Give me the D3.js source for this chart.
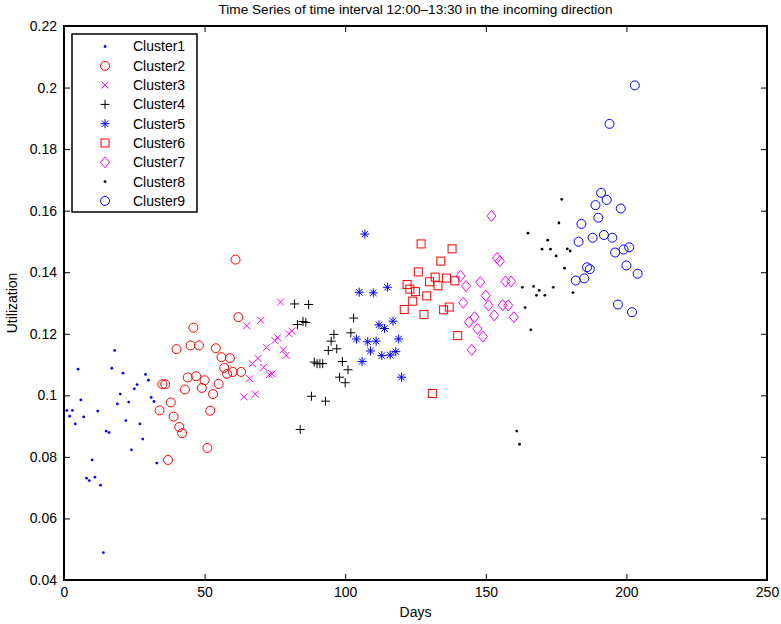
<!DOCTYPE html>
<html>
<head>
<meta charset="utf-8">
<script src="https://cdn.jsdelivr.net/npm/d3@7.9.0/dist/d3.min.js"></script>
<style>
  body { margin: 0; background: #fff; }
  svg { display: block; font-family: "Liberation Sans", Arial, sans-serif; }
</style>
</head>
<body>
<svg id="chart" width="781" height="624"></svg>
<script>
// data: day and utilization per cluster
const days1 = [1,2,3,4,5,6,7,8,9,10,11,12,13,14,15,16,17,18,19,20,21,22,23,24,25,26,27,28,29,30,31,32,33];
const util1 = [0.0951,0.0932,0.0951,0.0907,0.1085,0.0985,0.0930,0.0731,0.0723,0.0790,0.0734,0.0949,0.0708,0.0489,0.0884,0.0879,0.1088,0.1146,0.0972,0.1004,0.1072,0.0918,0.0978,0.0823,0.1021,0.1035,0.0907,0.0858,0.1068,0.1049,0.0993,0.0980,0.0780];

const days2 = [34,35,36,37,38,39,40,41,42,43,44,45,46,47,48,49,50,51,52,53,54,55,56,57,58,59,60,61,62,63];
const util2 = [0.0951,0.1036,0.1036,0.0790,0.0977,0.0931,0.1150,0.0897,0.0877,0.1019,0.1058,0.1162,0.1220,0.1062,0.1162,0.1024,0.1049,0.0829,0.0950,0.1004,0.1153,0.1037,0.1124,0.1089,0.1070,0.1121,0.1076,0.1441,0.1254,0.1076];

const days3 = [64,65,66,67,68,69,70,71,72,73,74,75,76,77,78,79,80,81];
const util3 = [0.0995,0.1226,0.1054,0.1103,0.1004,0.1120,0.1244,0.1091,0.1155,0.1067,0.1070,0.1178,0.1187,0.1303,0.1148,0.1130,0.1200,0.1209];

const days4 = [82,83,84,85,86,87,88,89,90,91,92,93,94,95,96,97,98,99,100,101,102,103];
const util4 = [0.1297,0.1230,0.0889,0.1240,0.1237,0.1295,0.0997,0.1108,0.1103,0.1103,0.1103,0.0981,0.1146,0.1176,0.1198,0.1151,0.1059,0.1110,0.1041,0.1083,0.1203,0.1251];

const days5 = [104,105,106,107,108,109,110,111,112,113,114,115,116,117,118,119,120];
const util5 = [0.1183,0.1335,0.1110,0.1524,0.1174,0.1144,0.1333,0.1176,0.1229,0.1129,0.1217,0.1351,0.1131,0.1241,0.1142,0.1183,0.1059];

const days6 = [121,122,123,124,125,126,127,128,129,130,131,132,133,134,135,136,137,138,139,140];
const util6 = [0.1279,0.1360,0.1345,0.1306,0.1337,0.1401,0.1492,0.1263,0.1323,0.1369,0.1006,0.1384,0.1356,0.1436,0.1278,0.1381,0.1287,0.1476,0.1372,0.1194];

const days7 = [141,142,143,144,145,146,147,148,149,150,151,152,153,154,155,156,157,158,159,160];
const util7 = [0.1388,0.1301,0.1355,0.1238,0.1148,0.1254,0.1216,0.1368,0.1191,0.1324,0.1292,0.1583,0.1260,0.1446,0.1436,0.1293,0.1370,0.1292,0.1370,0.1254];

const days8 = [161,162,163,164,165,166,167,168,169,170,171,172,173,174,175,176,177,178,179,180,181];
const util8 = [0.0884,0.0841,0.1351,0.1285,0.1527,0.1213,0.1354,0.1325,0.1341,0.1475,0.1325,0.1504,0.1475,0.1351,0.1453,0.1560,0.1637,0.1413,0.1476,0.1469,0.1334];

const days9 = [182,183,184,185,186,187,188,189,190,191,192,193,194,195,196,197,198,199,200,201,202,203,204];
const util9 = [0.1373,0.1499,0.1557,0.1380,0.1416,0.1410,0.1512,0.1618,0.1577,0.1658,0.1521,0.1635,0.1882,0.1512,0.1464,0.1295,0.1607,0.1474,0.1422,0.1481,0.1270,0.2007,0.1395];

const clusterNames = ['Cluster1','Cluster2','Cluster3','Cluster4','Cluster5','Cluster6','Cluster7','Cluster8','Cluster9'];
const xTicks = [0, 50, 100, 150, 200, 250];
const yTicks = [0.04, 0.06, 0.08, 0.1, 0.12, 0.14, 0.16, 0.18, 0.2, 0.22];

// matlab style marker per cluster
const styles = [
  { marker: 'point', color: '#0000ff' },
  { marker: 'circle', color: '#ff0000' },
  { marker: 'x', color: '#ff00ff' },
  { marker: 'plus', color: '#000000' },
  { marker: 'star', color: '#0000ff' },
  { marker: 'square', color: '#ff0000' },
  { marker: 'diamond', color: '#ff00ff' },
  { marker: 'point', color: '#000000' },
  { marker: 'circle', color: '#0000ff' },
];

const clusters = [
  [days1, util1], [days2, util2], [days3, util3], [days4, util4], [days5, util5],
  [days6, util6], [days7, util7], [days8, util8], [days9, util9],
].map(([d, u], i) => ({
  name: clusterNames[i],
  ...styles[i],
  points: d.map((day, j) => ({ day: day, value: u[j] })),
}));

const margin = { top: 26, right: 14, bottom: 44, left: 64 };
const width = 781 - margin.left - margin.right;
const height = 624 - margin.top - margin.bottom;

const svg = d3.select('#chart');
const g = svg.append('g').attr('transform', `translate(${margin.left},${margin.top})`);

const x = d3.scaleLinear().domain([0, 250]).range([0, width]);
const y = d3.scaleLinear().domain([0.04, 0.22]).range([height, 0]);

// draw one marker into a group
function drawMarker(sel, type, color) {
  if (type === 'point') {
    sel.append('circle').attr('r', 1.4).attr('fill', color);
  } else if (type === 'circle') {
    sel.append('circle').attr('r', 4.5).attr('fill', 'none').attr('stroke', color);
  } else if (type === 'square') {
    sel.append('rect').attr('x', -4).attr('y', -4).attr('width', 8).attr('height', 8)
      .attr('fill', 'none').attr('stroke', color);
  } else if (type === 'diamond') {
    sel.append('path').attr('d', 'M0,-5.5L4.5,0L0,5.5L-4.5,0Z')
      .attr('fill', 'none').attr('stroke', color);
  } else if (type === 'x') {
    sel.append('path').attr('d', 'M-3.5,-3.5L3.5,3.5M-3.5,3.5L3.5,-3.5')
      .attr('stroke', color);
  } else if (type === 'plus') {
    sel.append('path').attr('d', 'M-4.5,0H4.5M0,-4.5V4.5').attr('stroke', color);
  } else if (type === 'star') {
    sel.append('path').attr('d', 'M-4.5,0H4.5M0,-4.5V4.5M-3.2,-3.2L3.2,3.2M-3.2,3.2L3.2,-3.2')
      .attr('stroke', color);
  }
}

// ticks point inward on all four sides
g.append('g')
  .attr('transform', `translate(0,${height})`)
  .call(d3.axisBottom(x).tickValues(xTicks).tickSize(-6).tickPadding(7))
  .call(a => a.select('.domain').remove());
g.append('g')
  .call(d3.axisTop(x).tickValues(xTicks).tickSize(-6).tickFormat(''))
  .call(a => a.select('.domain').remove());
g.append('g')
  .call(d3.axisLeft(y).tickValues(yTicks).tickSize(-6).tickPadding(7)
    .tickFormat(d => String(+d.toFixed(2))))
  .call(a => a.select('.domain').remove());
g.append('g')
  .attr('transform', `translate(${width},0)`)
  .call(d3.axisRight(y).tickValues(yTicks).tickSize(-6).tickFormat(''))
  .call(a => a.select('.domain').remove());

g.selectAll('.tick line').attr('stroke', '#000').attr('stroke-width', 1);
g.selectAll('.tick text').attr('font-size', 14).attr('fill', '#000')
  .attr('font-family', '"Liberation Sans", Arial, sans-serif');

g.append('rect')
  .attr('width', width).attr('height', height)
  .attr('fill', 'none').attr('stroke', '#000').attr('stroke-width', 2);

// scatter
clusters.forEach(c => {
  c.points.forEach(p => {
    let m = g.append('g').attr('transform', `translate(${x(p.day)},${y(p.value)})`);
    drawMarker(m, c.marker, c.color);
  });
});

// legend
const legend = g.append('g').attr('transform', 'translate(8,8)');
legend.append('rect')
  .attr('width', 125).attr('height', 178)
  .attr('fill', '#fff').attr('stroke', '#000').attr('stroke-width', 1.5);
clusters.forEach((c, i) => {
  let row = legend.append('g').attr('transform', `translate(0,${12.5 + i * 19.3})`);
  drawMarker(row.append('g').attr('transform', 'translate(33,0)'), c.marker, c.color);
  row.append('text')
    .attr('x', 61).attr('dy', '0.35em')
    .attr('font-size', 14)
    .text(c.name);
});

// labels
svg.append('text')
  .attr('x', margin.left + width / 2).attr('y', 14)
  .attr('text-anchor', 'middle').attr('font-size', 13.6)
  .text('Time Series of time interval 12:00\u201313:30 in the incoming direction');
svg.append('text')
  .attr('x', margin.left + width / 2).attr('y', 617)
  .attr('text-anchor', 'middle').attr('font-size', 14)
  .text('Days');
svg.append('text')
  .attr('transform', `translate(17,${margin.top + height / 2}) rotate(-90)`)
  .attr('text-anchor', 'middle').attr('font-size', 14)
  .text('Utilization');
</script>
</body>
</html>
